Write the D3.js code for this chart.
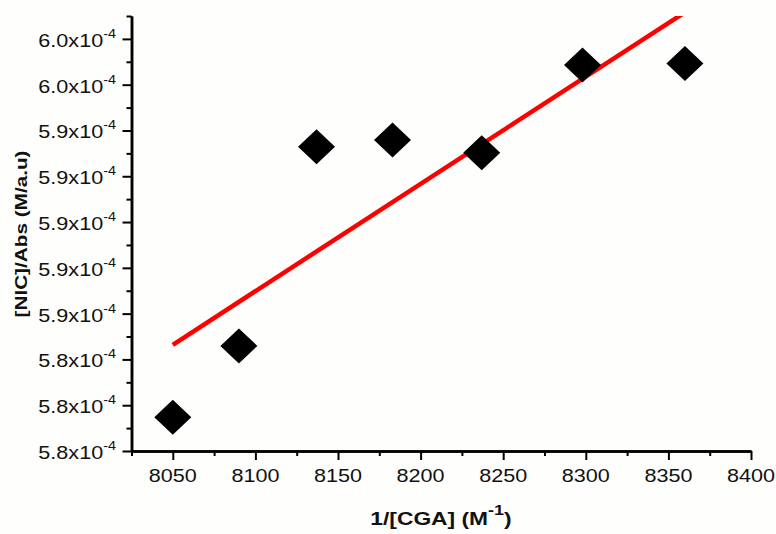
<!DOCTYPE html>
<html>
<head>
<meta charset="utf-8">
<script src="https://cdn.jsdelivr.net/npm/d3@7/dist/d3.min.js"></script>
<style>
  html, body { margin: 0; padding: 0; background: #fefefc; }
  svg { display: block; font-family: "Liberation Sans", Arial, sans-serif; }
</style>
</head>
<body>
<svg id="chart" width="776" height="534"></svg>
<script>
// ---- data (y values in units of 1e-4 M/a.u) ----
const xValues = [8050, 8090, 8137, 8183, 8237, 8298, 8360];
const yValues = [5.8147, 5.8459, 5.9329, 5.9358, 5.9303, 5.9686, 5.9693];
const fitX = [8050, 8360];
const fitY = [5.8464, 5.9916];
const xTicks = [8050, 8100, 8150, 8200, 8250, 8300, 8350, 8400];
const xMinorTicks = [8025, 8075, 8125, 8175, 8225, 8275, 8325, 8375];
const yTicks = [5.80, 5.82, 5.84, 5.86, 5.88, 5.90, 5.92, 5.94, 5.96, 5.98];
const yTickLabels = ["5.8", "5.8", "5.8", "5.9", "5.9", "5.9", "5.9", "5.9", "6.0", "6.0"];
const yMinorTicks = [5.81, 5.83, 5.85, 5.87, 5.89, 5.91, 5.93, 5.95, 5.97, 5.99];

const svg = d3.select("#chart");
const mLeft = 131.5, mRight = 751, mTop = 16, mBottom = 451;

const x = d3.scaleLinear().domain([8025, 8400]).range([mLeft, mRight]);
const y = d3.scaleLinear().domain([5.80, 5.99]).range([mBottom, mTop]);

// clip
svg.append("defs").append("clipPath").attr("id", "plotclip")
  .append("rect").attr("x", mLeft).attr("y", mTop).attr("width", mRight - mLeft).attr("height", mBottom - mTop);

// fit line
const fitData = fitX.map((d, i) => [d, fitY[i]]);
svg.append("path")
  .datum(fitData)
  .attr("clip-path", "url(#plotclip)")
  .attr("d", d3.line().x(d => x(d[0])).y(d => y(d[1])))
  .attr("stroke", "#ff0000").attr("stroke-width", 4.5).attr("fill", "none");

// points
const pts = xValues.map((d, i) => [d, yValues[i]]);
svg.selectAll(".pt").data(pts).enter().append("path")
  .attr("class", "pt")
  .attr("d", "M0,-17.5L18.5,0L0,17.5L-18.5,0Z")
  .attr("transform", d => `translate(${x(d[0])},${y(d[1])})`)
  .attr("fill", "#000");

// x axis
const xAxisG = svg.append("g").attr("transform", `translate(0,${mBottom})`);
xAxisG.call(d3.axisBottom(x).tickValues(xTicks).tickSize(9).tickSizeOuter(0).tickFormat(""));
xAxisG.append("g").call(d3.axisBottom(x).tickValues(xMinorTicks).tickSize(5).tickSizeOuter(0).tickFormat(""));
xAxisG.selectAll(".domain").attr("stroke", "#000").attr("stroke-width", 2.5);
xAxisG.selectAll(".tick line").attr("stroke", "#000").attr("stroke-width", 2);
xAxisG.selectAll(".xl").data(xTicks).enter().append("text")
  .attr("transform", d => `translate(${x(d)},31) scale(1.2,1)`)
  .attr("text-anchor", "middle")
  .attr("font-size", 18)
  .attr("fill", "#111")
  .text(d => d);

// y axis
const yAxisG = svg.append("g").attr("transform", `translate(${mLeft},0)`);
yAxisG.call(d3.axisLeft(y).tickValues(yTicks).tickSize(9).tickSizeOuter(0).tickFormat(""));
yAxisG.append("g").call(d3.axisLeft(y).tickValues(yMinorTicks).tickSize(5).tickSizeOuter(0).tickFormat(""));
yAxisG.selectAll(".domain").attr("stroke", "#000").attr("stroke-width", 2.5);
yAxisG.selectAll(".tick line").attr("stroke", "#000").attr("stroke-width", 2);

const yl = svg.selectAll(".yl").data(yTicks).enter().append("text")
  .attr("transform", d => `translate(116,${y(d) + 8}) scale(1.2,1)`)
  .attr("text-anchor", "end")
  .attr("font-size", 18)
  .attr("fill", "#111");
yl.append("tspan").text((d, i) => yTickLabels[i] + "x10");
yl.append("tspan").attr("font-size", 12).attr("dy", -9).text("-4");

// axis titles
svg.append("text")
  .attr("transform", "translate(27,234) rotate(-90) scale(1.22,1)")
  .attr("text-anchor", "middle")
  .attr("font-size", 17).attr("font-weight", "bold").attr("fill", "#111")
  .text("[NIC]/Abs (M/a.u)");

const xt = svg.append("text")
  .attr("transform", "translate(441,525) scale(1.2,1)")
  .attr("text-anchor", "middle")
  .attr("font-size", 19).attr("font-weight", "bold").attr("fill", "#111");
xt.append("tspan").text("1/[CGA] (M");
xt.append("tspan").attr("font-size", 15).attr("dy", -10).text("-1");
xt.append("tspan").attr("dy", 10).text(")");
</script>
</body>
</html>
